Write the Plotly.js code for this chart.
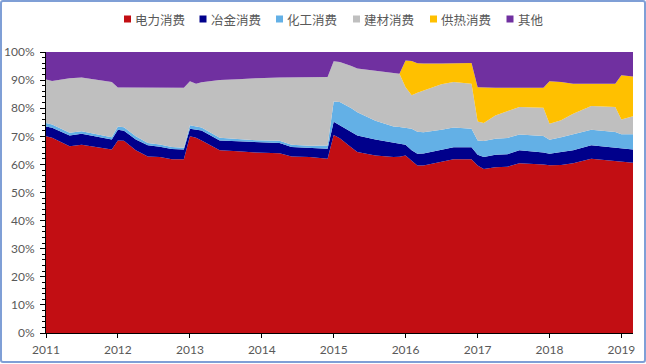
<!DOCTYPE html>
<html>
<head>
<meta charset="utf-8">
<script src="https://cdn.plot.ly/plotly-3.0.1.min.js"></script>
<style>
  html, body { margin: 0; padding: 0; background: #ffffff; }
  #chart { position: absolute; left: 0; top: 0; width: 646px; height: 364px; }
  #frame { position: absolute; left: 0; top: 0; width: 646px; height: 363px; box-sizing: border-box;
           border: 2px solid #7f9fd6; border-radius: 3px; pointer-events: none; }
</style>
</head>
<body>
<div id="chart"></div>
<div id="frame"></div>
<script>
// Dates of the readable points (monthly data, vertices)
const dates = ['2011-01','2011-02','2011-05','2011-07','2011-12',
  '2012-01','2012-02','2012-04','2012-06','2012-08','2012-10','2012-12',
  '2013-01','2013-02','2013-03','2013-06','2013-09','2013-12',
  '2014-04','2014-06','2014-09','2014-12',
  '2015-01','2015-02','2015-04','2015-05','2015-08','2015-11','2015-12',
  '2016-01','2016-02','2016-03','2016-04','2016-07','2016-09','2016-12',
  '2017-01','2017-02','2017-04','2017-06','2017-08','2017-12',
  '2018-01','2018-03','2018-05','2018-08','2018-12',
  '2019-01','2019-03'];

// Shares (%) per category
const power = [70.0,69.5,66.5,67.0,65.3, 68.5,68.4,65.0,62.8,62.6,61.8,61.8,
  70.0,69.5,68.5,65.0,64.7,64.2, 64.0,62.8,62.6,62.0,
  70.5,69.3,66.0,64.4,63.2,62.6,62.7, 63.2,61.3,59.6,59.6,60.8,61.8,61.8,
  59.6,58.4,59.0,59.2,60.4,60.0, 59.7,59.8,60.4,62.0,61.2, 61.0,60.6];
const metal = [3.5,3.5,3.8,3.9,3.6, 3.8,3.6,3.9,4.0,3.7,3.7,3.5,
  2.7,2.9,3.6,3.5,3.5,3.6, 3.6,3.4,3.2,3.6,
  4.7,4.7,5.5,5.9,5.7,5.0,4.6, 3.8,3.7,4.2,4.3,4.5,4.3,4.3,
  3.8,4.2,4.4,4.4,4.6,4.2, 4.1,4.6,4.6,4.8,4.7, 4.5,4.7];
const chem = [1.2,1.2,1.0,0.9,0.8, 1.2,1.2,1.1,0.8,0.8,0.7,0.6,
  1.2,1.2,1.0,1.0,0.9,0.8, 0.8,0.8,0.8,1.1,
  7.2,8.2,8.5,8.3,6.6,5.9,6.0, 5.9,7.7,7.8,7.5,7.0,7.0,6.6,
  5.1,5.7,5.7,5.8,5.6,5.9, 5.0,5.3,5.8,5.5,5.6, 5.2,5.4];
const building = [15.5,15.5,19.4,19.1,19.6, 13.9,14.2,17.4,19.7,20.2,21.1,21.4,
  15.7,15.1,16.1,20.5,21.2,22.1, 22.5,24.0,24.4,24.4,
  14.3,14.2,15.0,15.5,17.8,19.1,19.0, 14.6,11.9,13.9,14.9,16.2,16.2,16.0,
  6.8,6.4,8.3,9.6,9.8,10.1, 5.7,6.0,7.2,8.5,8.9, 5.3,6.4];
const heating = [0,0,0,0,0, 0,0,0,0,0,0,0,
  0,0,0,0,0,0, 0,0,0,0,
  0,0,0,0,0,0,0, 9.5,12.2,10.5,9.6,7.4,6.7,7.4,
  12.2,12.7,9.9,8.3,6.9,7.1, 15.1,13.6,10.7,7.9,8.3, 15.7,14.2];
const other = [9.8,10.3,9.3,9.1,10.7, 12.6,12.6,12.6,12.7,12.7,12.7,12.7,
  10.4,11.3,10.8,10.0,9.7,9.3, 9.1,9.0,9.0,8.9,
  3.3,3.6,5.0,5.9,6.7,7.4,7.7, 3.0,3.2,4.0,4.1,4.1,4.0,3.9,
  12.5,12.6,12.7,12.7,12.7,12.7, 10.4,10.7,11.3,11.3,11.3, 8.3,8.7];

const seriesNames = ['电力消费','冶金消费','化工消费','建材消费','供热消费','其他'];
const seriesData = [power, metal, chem, building, heating, other];
const seriesColors = ['#c20e13','#00008b','#63b0e6','#bfbfbf','#ffc000','#7030a0'];

const yearTicks = ['2011','2012','2013','2014','2015','2016','2017','2018','2019'];
const pctTicks = [0,10,20,30,40,50,60,70,80,90,100];
const pctLabels = ['0%','10%','20%','30%','40%','50%','60%','70%','80%','90%','100%'];

const traces = seriesNames.map((n, i) => ({
  type: 'scatter', mode: 'lines', name: n,
  x: dates, y: seriesData[i],
  stackgroup: 'one', line: {width: 0, color: seriesColors[i]},
  fillcolor: seriesColors[i], showlegend: false, hoverinfo: 'skip'
}));

// plot area geometry (pixels) for custom legend placement
const W = 646, H = 364, L = 46, R = 13, T = 52, B = 31;
const pw = W - L - R, ph = H - T - B;
const px = v => (v - L) / pw;
const py = v => (H - B - v) / ph;

const legendX = [124, 199.5, 276, 353, 430, 506.5];
const legendY = 19;
const shapes = [], annotations = [];
seriesNames.forEach((n, i) => {
  shapes.push({type: 'rect', xref: 'paper', yref: 'paper',
    x0: px(legendX[i]), x1: px(legendX[i] + 7), y0: py(legendY + 3.5), y1: py(legendY - 3.5),
    fillcolor: seriesColors[i], line: {width: 0}});
  annotations.push({xref: 'paper', yref: 'paper', x: px(legendX[i] + 9), y: py(legendY),
    xanchor: 'left', yanchor: 'middle', showarrow: false, text: n,
    font: {family: 'Noto Sans CJK SC, sans-serif', size: 12.5, color: '#595959'}});
});

const layout = {
  width: W, height: H,
  margin: {l: L, r: R, t: T, b: B, pad: 0},
  paper_bgcolor: '#ffffff', plot_bgcolor: '#ffffff',
  showlegend: false,
  font: {family: 'Lato, sans-serif', size: 12, color: '#595959'},
  xaxis: {
    type: 'date', range: ['2011-01-01', '2019-03-01'],
    tickmode: 'array',
    tickvals: yearTicks.map(y => y + '-01-01'), ticktext: yearTicks,
    showgrid: false, zeroline: false,
    showline: true, linecolor: '#000000', linewidth: 1,
    ticks: 'outside', ticklen: 4, tickcolor: '#000000', tickwidth: 1,
    ticklabelstandoff: 2,
    tickfont: {family: 'Lato, sans-serif', size: 12, color: '#595959'}
  },
  yaxis: {
    range: [0, 100], tickmode: 'array', tickvals: pctTicks, ticktext: pctLabels,
    showgrid: false, zeroline: false,
    showline: true, linecolor: '#000000', linewidth: 1,
    ticks: 'outside', ticklen: 5, tickcolor: '#000000', tickwidth: 1,
    ticklabelstandoff: 3,
    minor: {tickmode: 'linear', tick0: 0, dtick: 2, ticks: 'outside', ticklen: 3, tickcolor: '#000000', tickwidth: 1, showgrid: false},
    tickfont: {family: 'Lato, sans-serif', size: 12, color: '#595959'}
  },
  shapes: shapes,
  annotations: annotations
};

Plotly.newPlot('chart', traces, layout, {staticPlot: true, displayModeBar: false});
</script>
</body>
</html>
